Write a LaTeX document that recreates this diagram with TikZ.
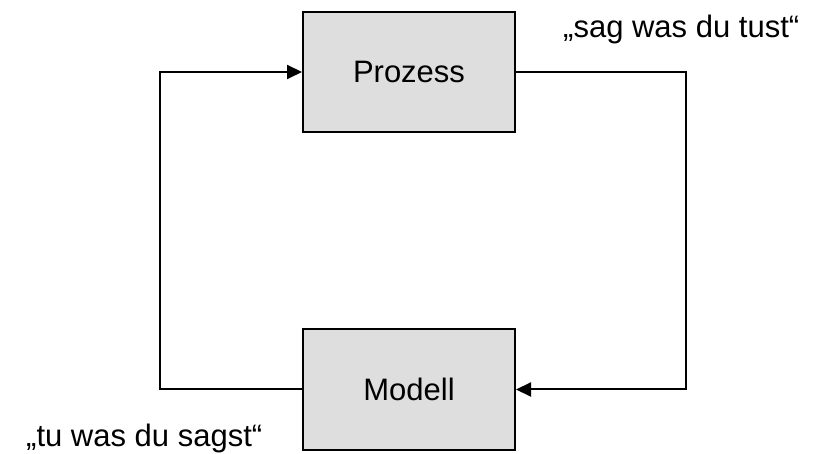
\documentclass[tikz,border=0pt]{standalone}
\usepackage{fontspec}
\setmainfont{Liberation Sans}
\usetikzlibrary{arrows.meta}
\begin{document}
\begin{tikzpicture}[x=1pt,y=-1pt,
  blockbox/.style={draw=black, line width=2pt, fill=gray!26, minimum width=212pt, minimum height=120pt, inner sep=0pt, font=\fontsize{31}{36}\selectfont},
  quotetext/.style={inner sep=0pt, anchor=base west, font=\fontsize{31}{36}\selectfont},
  conn/.style={line width=2pt, -{Triangle[length=15pt,width=14pt]}}]
\useasboundingbox (0,0) rectangle (815,454);
\node[blockbox] (proz) at (409,72) {Prozess};
\node[blockbox, minimum height=121pt] (mod) at (409,389.5) {Modell};
\coordinate (lc) at (159.5,72);
\coordinate (rc) at (685.5,72);
\draw[conn] (mod.west) -| (lc) -- (proz.west);
\draw[conn] (proz.east) -- (rc) |- (mod.east);
\node[quotetext] (q1) at (563,38) {„sag was du tust“};
\node[quotetext] (q2) at (26,446.5) {„tu was du sagst“};
\end{tikzpicture}
\end{document}
